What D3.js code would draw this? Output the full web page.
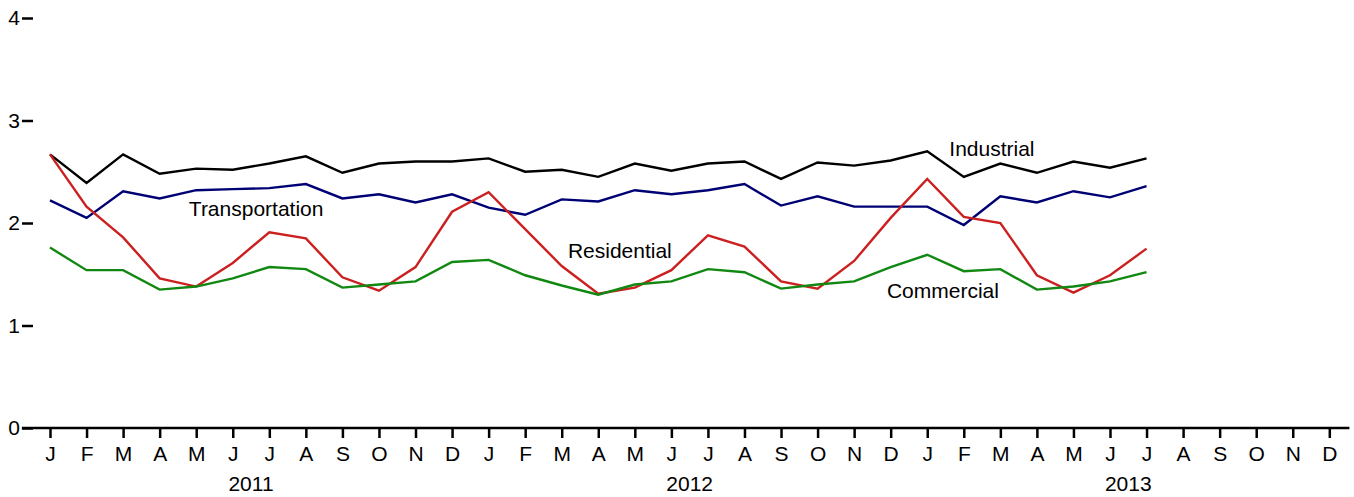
<!DOCTYPE html>
<html>
<head>
<meta charset="utf-8">
<script src="https://cdnjs.cloudflare.com/ajax/libs/d3/7.8.5/d3.min.js"></script>
<style>
  body { margin: 0; background: #fff; }
  text { font-family: "Liberation Sans", Arial, sans-serif; }
</style>
</head>
<body>
<div class="chart"></div>
<script>
const width = 1354;
const height = 497;

// months Jan 2011 .. Dec 2013
const monthLetters = ["J","F","M","A","M","J","J","A","S","O","N","D"];
const years = ["2011", "2012", "2013"];
const yTicks = [0, 1, 2, 3, 4];

// Jan 2011 .. Jul 2013 (31 months)
const industrial = [2.67,2.39,2.67,2.48,2.53,2.52,2.58,2.65,2.49,2.58,2.60,2.60,
  2.63,2.50,2.52,2.45,2.58,2.51,2.58,2.60,2.43,2.59,2.56,2.61,
  2.70,2.45,2.58,2.49,2.60,2.54,2.63];
const transportation = [2.22,2.05,2.31,2.24,2.32,2.33,2.34,2.38,2.24,2.28,2.20,2.28,
  2.15,2.08,2.23,2.21,2.32,2.28,2.32,2.38,2.17,2.26,2.16,2.16,
  2.16,1.98,2.26,2.20,2.31,2.25,2.36];
const residential = [2.67,2.16,1.86,1.46,1.38,1.61,1.91,1.85,1.47,1.34,1.57,2.11,
  2.30,1.94,1.58,1.31,1.37,1.54,1.88,1.77,1.43,1.36,1.63,2.05,
  2.43,2.06,2.00,1.49,1.32,1.49,1.75];
const commercial = [1.76,1.54,1.54,1.35,1.38,1.46,1.57,1.55,1.37,1.40,1.43,1.62,
  1.64,1.49,1.39,1.30,1.40,1.43,1.55,1.52,1.36,1.40,1.43,1.57,
  1.69,1.53,1.55,1.35,1.38,1.43,1.52];

const seriesNames = ["Industrial", "Transportation", "Residential", "Commercial"];
const seriesColors = ["#000000", "#000075", "#cc2020", "#118811"];
// label anchors in data units (month index, value)
const labelX = [25.77, 5.64, 15.59, 24.43];
const labelY = [2.654, 2.068, 1.661, 1.271];

const series = [industrial, transportation, residential, commercial];
const fontSize = 21;

const svg = d3.select(".chart")
  .append("svg")
  .attr("width", width)
  .attr("height", height);

let xScale = d3.scaleLinear()
  .domain([0, 35])
  .range([50, 1329.3]);

let yScale = d3.scaleLinear()
  .domain([0, 4])
  .range([428, 18]);

// x axis
const monthIdx = d3.range(36);
const xAxis = d3.axisBottom(xScale)
  .tickValues(monthIdx)
  .tickFormat(i => monthLetters[i % 12])
  .tickSize(10)
  .tickPadding(8);

const gx = svg.append("g")
  .attr("transform", "translate(0," + yScale(0) + ")")
  .call(xAxis);
gx.select(".domain").remove();
gx.selectAll(".tick line").attr("stroke", "#000").attr("stroke-width", 2.5);
gx.selectAll(".tick text").attr("font-size", fontSize).attr("fill", "#000")
  .style("font-family", '"Liberation Sans", Arial, sans-serif');
gx.append("line")
  .attr("x1", xScale(-0.77))
  .attr("x2", xScale(35.55))
  .attr("y1", 0).attr("y2", 0)
  .attr("stroke", "#000")
  .attr("stroke-width", 2.7);

// year labels at mid-year
svg.selectAll(".year")
  .data(years)
  .enter()
  .append("text")
  .attr("class", "year")
  .attr("x", (d, i) => xScale(i * 12 + 5.5))
  .attr("y", 491)
  .attr("text-anchor", "middle")
  .attr("font-size", fontSize)
  .text(d => d);

// y axis
const yAxis = d3.axisLeft(yScale)
  .tickValues(yTicks)
  .tickFormat(d3.format("d"))
  .tickSize(11)
  .tickPadding(2);
const gy = svg.append("g")
  .attr("transform", "translate(33,0)")
  .call(yAxis);
gy.select(".domain").remove();
gy.selectAll(".tick line").attr("stroke", "#000").attr("stroke-width", 2.5);
gy.selectAll(".tick text").attr("font-size", fontSize).attr("fill", "#000")
  .style("font-family", '"Liberation Sans", Arial, sans-serif');

// lines
const line = d3.line()
  .x((d, i) => xScale(i))
  .y(d => yScale(d));

svg.selectAll(".series")
  .data(series)
  .enter()
  .append("path")
  .attr("class", "series")
  .attr("d", d => line(d))
  .attr("fill", "none")
  .attr("stroke", (d, i) => seriesColors[i])
  .attr("stroke-width", 2.4)
  .attr("stroke-linejoin", "miter");

// labels
svg.selectAll(".lbl")
  .data(seriesNames)
  .enter()
  .append("text")
  .attr("class", "lbl")
  .attr("x", (d, i) => xScale(labelX[i]))
  .attr("y", (d, i) => yScale(labelY[i]))
  .attr("text-anchor", "middle")
  .attr("font-size", fontSize)
  .text(d => d);
</script>
</body>
</html>
